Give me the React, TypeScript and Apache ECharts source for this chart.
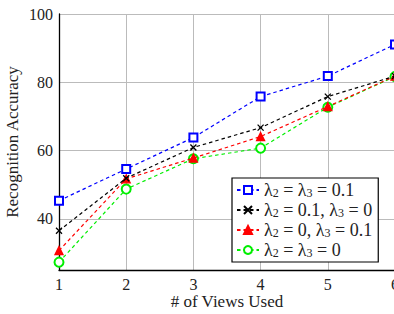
import React, { useEffect, useRef } from "react";
import * as echarts from "echarts";

const categories = ["1", "2", "3", "4", "5", "6"];
const seriesNames = ["a", "b", "c", "d"];
const valuesA = [45.3, 54.6, 63.8, 75.8, 81.8, 91.1];
const valuesB = [36.5, 51.9, 60.9, 66.7, 75.8, 81.8];
const valuesC = [30.7, 51.7, 57.8, 64.1, 72.9, 81.8];
const valuesD = [27.3, 48.7, 57.6, 60.7, 72.7, 81.7];
const yTicks = [40, 60, 80, 100];
const colors = ["#0000ff", "#000000", "#ff0000", "#00ee00"];
const legendLabels: Record<string, string> = {
  a: "{t|λ}{s|2}{t| = λ}{s|3}{t| = 0.1}",
  b: "{t|λ}{s|2}{t| = 0.1, λ}{s|3}{t| = 0}",
  c: "{t|λ}{s|2}{t| = 0, λ}{s|3}{t| = 0.1}",
  d: "{t|λ}{s|2}{t| = λ}{s|3}{t| = 0}",
};

const FONT = "Liberation Serif";

export default function App() {
  const ref = useRef<HTMLDivElement>(null);
  useEffect(() => {
    const chart = echarts.init(ref.current!, null, { renderer: "svg" });
    const data = [valuesA, valuesB, valuesC, valuesD];
    const symbols = ["emptyRect", "path://M0,0L10,10M10,0L0,10", "triangle", "emptyCircle"];
    const sizes = [8, 6, 8, 9];
    chart.setOption({
      animation: false,
      backgroundColor: "#ffffff",
      textStyle: { fontFamily: FONT },
      grid: { left: 59, top: 14, right: -1, bottom: 44, outerBoundsMode: "none", containLabel: false },
      xAxis: {
        type: "value",
        min: 1,
        max: 6,
        interval: 1,
        name: "# of Views Used",
        nameLocation: "middle",
        nameGap: 23,
        nameMoveOverlap: false,
        nameTextStyle: { fontFamily: FONT, fontSize: 17, lineHeight: 17, color: "#222" },
        axisLine: { show: true, lineStyle: { color: "#000", width: 1.3 } },
        axisTick: { show: false },
        axisLabel: { fontFamily: FONT, fontSize: 16, lineHeight: 16, color: "#222", margin: 6 },
        splitLine: { show: true, lineStyle: { color: "#bbb", width: 1 } },
      },
      yAxis: {
        type: "value",
        min: 25,
        max: 100,
        name: "Recognition Accuracy",
        nameLocation: "middle",
        nameGap: 38,
        nameMoveOverlap: false,
        nameTextStyle: { fontFamily: FONT, fontSize: 17, color: "#222" },
        axisLine: { show: true, lineStyle: { color: "#000", width: 1.3 } },
        axisTick: { show: false, customValues: yTicks },
        axisLabel: {
          fontFamily: FONT,
          fontSize: 16,
          color: "#222",
          margin: 6,
          customValues: yTicks,
        },
        splitLine: { show: true, lineStyle: { color: "#bbb", width: 1 } },
      },
      legend: {
        orient: "vertical",
        left: 232,
        top: 178,
        padding: [3, 6, 3, 4],
        itemGap: 2,
        itemWidth: 22,
        itemHeight: 10,
        borderColor: "#000",
        borderWidth: 1.2,
        borderRadius: 0,
        backgroundColor: "#fff",
        data: seriesNames,
        formatter: (n: string) => legendLabels[n],
        textStyle: {
          fontFamily: FONT,
          color: "#222",
          rich: {
            t: { fontFamily: FONT, fontSize: 18, lineHeight: 17, color: "#222" },
            s: { fontFamily: FONT, fontSize: 12, lineHeight: 8, verticalAlign: "bottom", color: "#222" },
          },
        },
      },
      series: seriesNames.map((n, i) => ({
        name: n,
        type: "line",
        data: categories.map((c, j) => [Number(c), data[i][j]]),
        symbol: symbols[i],
        symbolSize: sizes[i],
        showAllSymbol: true,
        lineStyle: { color: colors[i], width: 1.2, type: [3.5, 3] },
        itemStyle: { color: colors[i], borderColor: colors[i], borderWidth: 1.3 },
        emphasis: { disabled: true },
        clip: false,
        z: 10 - i,
      })),
    });
    return () => chart.dispose();
  }, []);
  return (
    <div
      ref={ref}
      style={{ position: "absolute", left: 0, top: 0, width: 394, height: 314 }}
    />
  );
}
